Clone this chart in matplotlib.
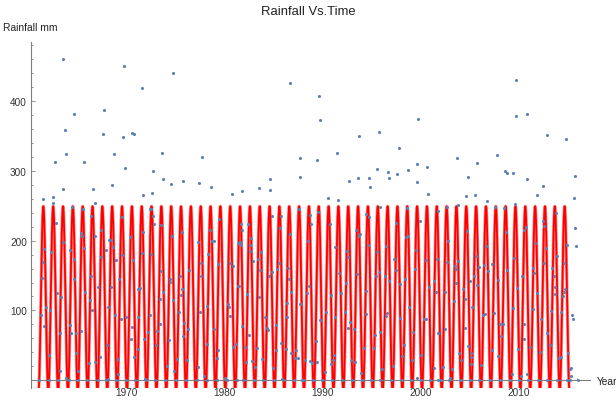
import numpy as np
import matplotlib
matplotlib.use("Agg")
import matplotlib.pyplot as plt
from matplotlib.ticker import MultipleLocator

plt.rcParams['font.family'] = ['Liberation Sans', 'DejaVu Sans']

TITLE = "Rainfall Vs.Time"
Y_LABEL = "Rainfall mm"
X_LABEL = "Year"
X_TICKS = [1970, 1980, 1990, 2000, 2010]
Y_TICKS = [100, 200, 300, 400]

# monthly rainfall points (year, mm)
RAIN_YEAR = [
    1963.53, 1969.72, 1964.65, 1967.70, 1963.67, 1967.60, 1969.60, 1970.57, 1970.71, 1963.77,
    1968.70, 1962.68, 1965.60, 1969.82, 1968.46, 1963.53, 1966.60, 1961.49, 1962.44, 1962.50,
    1966.76, 1964.42, 1965.57, 1966.40, 1962.78, 1965.30, 1965.40, 1966.80, 1967.40, 1968.20,
    1968.35, 1970.30, 1969.50, 1963.46, 1961.60, 1962.30, 1964.25, 1964.60, 1965.60, 1967.90,
    1968.60, 1968.90, 1969.55, 1970.64, 1961.50, 1961.40, 1964.60, 1966.40, 1967.40, 1967.10,
    1968.40, 1969.20, 1962.90, 1963.30, 1965.70, 1961.80, 1962.20, 1966.30, 1966.50, 1968.10,
    1971.20, 1961.20, 1961.60, 1968.80, 1969.40, 1969.90, 1964.20, 1964.35, 1964.80, 1965.30,
    1963.20, 1970.50, 1971.20, 1967.95, 1962.07, 1964.86, 1967.30, 1969.10, 1970.40, 1970.75,
    1971.20, 1963.20, 1965.00, 1966.10, 1966.80, 1969.10, 1963.80, 1968.10,
    # 1971 - 1981
    1974.76, 1971.56, 1973.64, 1977.69, 1972.65, 1973.74, 1974.50, 1975.75, 1977.38, 1978.57,
    1971.67, 1972.55, 1980.78, 1972.38, 1972.45, 1972.72, 1972.80, 1971.63, 1973.54, 1974.60,
    1975.60, 1979.40, 1978.47, 1978.70, 1978.86, 1971.53, 1972.48, 1977.24, 1977.60, 1977.60,
    1978.33, 1979.35, 1980.58, 1980.82, 1981.40, 1976.36, 1973.47, 1974.40, 1974.45, 1975.41,
    1975.60, 1975.55, 1971.36, 1973.74, 1974.70, 1973.43, 1975.30, 1977.50, 1978.20, 1980.30,
    1980.44, 1980.50, 1981.40, 1972.38, 1973.37, 1975.80, 1973.13, 1976.30, 1978.90, 1972.18,
    1971.77, 1975.75, 1974.32, 1978.23, 1972.99, 1980.85, 1981.16, 1979.35, 1979.22, 1976.20,
    1975.14, 1974.15, 1974.80, 1977.24, 1977.90, 1980.03, 1971.90,
    # 1981 - 1991
    1986.70, 1989.66, 1989.76, 1987.68, 1989.45, 1991.42, 1987.68, 1984.62, 1983.50, 1984.62,
    1981.76, 1990.54, 1991.60, 1984.79, 1985.74, 1987.55, 1988.70, 1988.80, 1989.55, 1990.74,
    1981.66, 1981.73, 1982.38, 1982.72, 1981.56, 1981.66, 1982.60, 1982.55, 1983.70, 1982.92,
    1983.40, 1983.60, 1984.86, 1984.55, 1985.60, 1985.34, 1985.54, 1986.50, 1986.60, 1986.66,
    1988.50, 1988.60, 1988.36, 1987.72, 1986.76, 1986.39, 1981.50, 1982.27, 1983.53, 1991.63,
    1991.29, 1990.88, 1990.30, 1989.72, 1989.35, 1991.29, 1984.15, 1984.30, 1984.45, 1985.27,
    1981.73, 1982.44, 1986.39, 1985.78, 1986.25, 1986.80, 1987.30, 1987.50, 1987.20, 1985.27,
    1983.84, 1983.30, 1983.09, 1982.82, 1982.07, 1982.14, 1984.89, 1988.20, 1988.70, 1988.94,
    1989.42, 1990.85, 1991.02, 1991.15, 1990.20, 1987.92, 1985.80,
    # 1991 - 2002
    1999.76, 1995.72, 1993.71, 1997.76, 1999.63, 2000.61, 1995.58, 1996.67, 1996.80, 1997.59,
    1998.67, 1993.61, 1994.73, 1992.72, 1994.83, 1999.66, 2000.72, 1995.85, 1994.42, 1994.76,
    1998.57, 1999.90, 2001.80, 1993.37, 1993.74, 1993.85, 1994.63, 1996.46, 1997.48, 1998.54,
    1998.74, 1992.52, 1992.62, 1995.51, 1999.56, 2000.58, 2001.63, 1997.28, 1993.54, 1995.48,
    1995.75, 1996.40, 1996.77, 1997.45, 1997.93, 1998.44, 1999.42, 2000.82, 2001.40, 2001.57,
    1991.87, 1992.42, 1994.39, 1992.28, 1994.42, 1996.60, 1996.50, 1998.85, 1992.76, 1992.62,
    1993.23, 1995.89, 1995.38, 1997.86, 1999.25, 2000.31, 2000.51, 2001.80, 1994.25, 1995.20,
    1998.27, 2000.07, 1992.86, 1993.33, 1993.91, 1996.06, 1997.14, 1998.13, 1999.15, 2001.36,
    1999.63,
    # 2002 - 2012
    2009.73, 2009.73, 2010.81, 2003.67, 2007.75, 2005.78, 2004.80, 2008.64, 2008.77, 2009.39,
    2010.81, 2004.59, 2005.54, 2006.77, 2003.81, 2011.83, 2009.62, 2002.68, 2007.62, 2008.50,
    2004.69, 2002.82, 2010.58, 2010.71, 2008.74, 2006.63, 2011.70, 2002.65, 2003.81, 2003.50,
    2003.57, 2005.64, 2005.95, 2006.43, 2007.28, 2006.90, 2008.84, 2009.52, 2011.50, 2011.60,
    2002.45, 2003.60, 2004.32, 2004.52, 2005.00, 2005.47, 2005.71, 2007.89, 2009.80, 2010.37,
    2011.83, 2003.37, 2005.24, 2006.32, 2006.56, 2007.45, 2009.39, 2011.50, 2008.06, 2008.43,
    2004.49, 2008.23, 2002.48, 2010.58, 2002.31, 2003.88, 2004.15, 2005.17, 2005.17, 2005.17,
    2004.86, 2006.15, 2007.31, 2007.92, 2009.90, 2010.58, 2011.15, 2010.90, 2003.23, 2002.99,
    2009.28, 2010.20,
    # 2012 - 2016
    2012.92, 2014.79, 2015.78, 2012.48, 2015.67, 2013.80, 2015.74, 2015.88, 2012.51, 2012.58,
    2014.89, 2012.75, 2013.90, 2014.65, 2012.61, 2013.43, 2013.60, 2013.67, 2013.67, 2014.72,
    2014.59, 2014.48, 2013.30, 2014.28, 2012.31, 2015.40, 2015.54, 2012.85, 2013.19, 2014.08,
    2014.35, 2015.00, 2012.17, 2015.27, 2015.33, 2015.30,
]
RAIN_MM = [
    459.5, 449.0, 381.4, 386.2, 358.6, 352.4, 347.6, 353.3, 352.4, 323.3,
    323.3, 312.4, 312.4, 303.3, 280.0, 273.8, 273.8, 260.0, 261.9, 254.3,
    254.3, 248.6, 245.2, 235.7, 225.2, 210.5, 207.0, 206.7, 215.7, 200.5,
    200.5, 205.0, 234.3, 198.0, 188.6, 183.8, 186.7, 174.3, 189.5, 186.7,
    191.0, 171.9, 179.0, 171.9, 170.0, 147.1, 145.2, 148.6, 176.2, 132.9,
    132.9, 145.7, 124.8, 118.6, 126.7, 104.3, 101.0, 114.8, 101.0, 104.3,
    131.4, 93.3, 78.1, 93.8, 87.1, 90.0, 79.5, 67.2, 67.6, 70.9,
    67.2, 76.7, 90.0, 51.0, 36.7, 39.5, 33.3, 30.0, 58.6, 33.3,
    45.2, 12.9, 12.9, 24.8, 26.2, 9.5, 3.3, 1.4,
    # 1971 - 1981
    440.0, 418.6, 324.8, 320.0, 299.0, 288.0, 280.5, 284.8, 281.9, 277.2,
    265.2, 268.1, 266.7, 245.2, 245.2, 235.7, 223.8, 212.9, 222.9, 206.7,
    211.9, 231.4, 215.7, 199.0, 199.0, 182.0, 181.0, 197.6, 168.6, 148.6,
    181.0, 167.1, 167.6, 164.3, 197.0, 158.1, 156.2, 145.2, 141.4, 148.6,
    130.5, 122.4, 131.9, 127.1, 114.8, 116.2, 97.6, 98.1, 105.7, 108.6,
    105.2, 92.4, 134.8, 93.3, 80.5, 82.4, 70.0, 73.8, 73.8, 69.0,
    59.5, 62.9, 58.1, 51.9, 51.0, 47.6, 52.4, 43.8, 32.0, 29.0,
    30.0, 20.0, 13.3, 19.5, 6.2, 3.3, 1.4,
    # 1981 - 1991
    424.8, 406.2, 372.9, 317.6, 315.7, 325.2, 291.4, 288.1, 275.7, 272.9,
    271.0, 260.5, 258.6, 235.7, 234.8, 245.2, 237.1, 223.8, 240.5, 223.8,
    223.8, 215.7, 223.8, 203.8, 197.6, 194.3, 194.3, 184.8, 183.3, 171.4,
    173.8, 157.6, 154.8, 149.5, 217.6, 159.0, 168.1, 160.5, 145.2, 209.0,
    200.0, 134.8, 124.8, 108.6, 127.1, 110.5, 134.8, 123.3, 119.0, 153.3,
    191.4, 122.4, 97.6, 86.7, 56.2, 90.5, 90.5, 75.0, 71.4, 79.5,
    78.1, 64.3, 90.5, 53.3, 45.2, 39.5, 42.9, 32.0, 32.0, 42.9,
    30.0, 46.2, 19.0, 27.1, 47.6, 26.2, 17.6, 28.6, 27.6, 25.2,
    26.2, 23.3, 28.6, 36.7, 11.9, 1.0, 1.4,
    # 1991 - 2002
    373.8, 355.2, 349.0, 332.4, 309.5, 304.8, 301.9, 298.6, 289.5, 295.7,
    300.5, 289.5, 289.5, 284.8, 277.2, 283.3, 266.2, 248.1, 237.6, 234.3,
    246.7, 228.1, 242.9, 215.7, 207.1, 210.0, 194.3, 192.9, 224.8, 204.8,
    206.2, 185.2, 177.1, 183.3, 186.7, 171.9, 172.9, 172.9, 151.9, 149.5,
    154.8, 149.0, 141.9, 158.1, 138.1, 145.7, 159.0, 132.9, 141.9, 127.1,
    125.2, 139.0, 128.1, 97.6, 94.8, 96.7, 92.4, 104.3, 83.3, 74.8,
    72.9, 69.0, 65.2, 88.6, 69.0, 88.0, 88.0, 67.1, 46.7, 46.2,
    51.0, 36.7, 28.6, 26.2, 10.5, 16.7, 20.0, 34.8, 29.0, 17.6,
    3.3,
    # 2002 - 2012
    429.0, 378.6, 381.4, 317.6, 321.9, 311.0, 291.4, 299.5, 296.7, 297.1,
    288.1, 263.8, 265.2, 257.1, 251.4, 265.2, 252.9, 248.6, 247.6, 246.7,
    213.3, 199.5, 215.7, 219.5, 212.9, 191.9, 196.2, 170.0, 171.4, 164.3,
    159.5, 177.6, 162.4, 164.8, 166.7, 156.2, 158.1, 174.8, 160.5, 153.3,
    127.1, 139.0, 130.0, 116.2, 141.9, 149.5, 136.2, 142.9, 131.9, 149.5,
    125.2, 113.3, 104.3, 92.9, 94.8, 96.7, 102.9, 102.4, 81.0, 81.0,
    74.8, 62.9, 73.3, 80.5, 19.0, 39.5, 28.6, 38.6, 33.3, 23.8,
    48.6, 22.4, 42.9, 35.2, 44.3, 59.5, 47.1, 8.6, 15.7, 3.3,
    9.0, 6.2,
    # 2012 - 2016
    350.9, 344.8, 292.9, 277.6, 261.4, 239.5, 217.6, 192.9, 228.6, 220.5,
    194.3, 189.5, 177.6, 168.1, 168.6, 160.5, 148.6, 133.3, 123.8, 130.0,
    126.2, 121.0, 99.5, 97.6, 87.1, 93.8, 87.1, 67.1, 51.0, 32.4,
    33.3, 39.5, 40.5, 16.7, 17.6, 5.7,
]
# dry-season months sitting on the axis
ZERO_YEAR = [
    1961.08, 1962.10, 1963.02, 1964.14, 1965.06, 1965.98, 1967.03, 1967.89, 1968.90, 1969.93,
    1970.88, 1971.94, 1972.89, 1973.91, 1975.03, 1976.05, 1977.14, 1978.16, 1979.18, 1980.20,
    1981.22, 1981.90, 1983.02, 1983.94, 1985.00, 1985.98, 1987.07, 1987.95, 1989.04, 1989.96,
    1990.95, 1992.01, 1993.00, 1994.05, 1994.90, 1995.85, 1996.94, 1998.06, 1999.02, 2000.00,
    2000.99, 2001.80, 2002.10, 2002.92, 2004.11, 2005.03, 2005.98, 2007.07, 2008.06, 2009.15,
    2010.03, 2010.92, 2011.94, 2012.92, 2013.87, 2014.96, 2015.23, 2016.08,
]

# fitted seasonal model (red curve)
FIT_MEAN = 117.0
FIT_AMP = 132.0
FIT_PERIOD = 1.0038
FIT_PEAK = 1961.49
FIT_START = 1961.0
FIT_END = 2015.2

BLUE = '#5e81b5'
AXIS_GRAY = '#7f7f7f'
TEXT_GRAY = '#333333'

fig = plt.figure(figsize=(6.16, 4.02), dpi=100)
ax = fig.add_axes([31 / 616, 1 - 389 / 402, (590 - 31) / 616, (389 - 43) / 402])
ax.set_facecolor('none')

t = np.linspace(FIT_START, FIT_END, 6000)
fit = FIT_MEAN + FIT_AMP * np.cos(2 * np.pi * (t - FIT_PEAK) / FIT_PERIOD)
ax.plot(t, fit, color='red', lw=2.3, alpha=0.45, zorder=2)
ax.plot(t, fit, color='red', lw=1.3, zorder=2)

ax.scatter(RAIN_YEAR, RAIN_MM, s=5, color=BLUE, linewidths=0, zorder=3)
ax.scatter(ZERO_YEAR, np.zeros(len(ZERO_YEAR)), s=5, color=BLUE, linewidths=0, zorder=3)

ax.set_xlim(1960.23, 2017.28)
ax.set_ylim(-10.9, 484)

for s in ('top', 'right'):
    ax.spines[s].set_visible(False)
ax.spines['bottom'].set_position(('data', 0))
for s in ('left', 'bottom'):
    ax.spines[s].set_color(AXIS_GRAY)
    ax.spines[s].set_linewidth(0.8)

ax.set_xticks(X_TICKS)
ax.set_yticks(Y_TICKS)
ax.xaxis.set_minor_locator(MultipleLocator(2))
ax.yaxis.set_minor_locator(MultipleLocator(20))
ax.tick_params(which='both', direction='in', color=AXIS_GRAY, width=0.6,
               labelsize=7.2, labelcolor=TEXT_GRAY)
ax.tick_params(which='major', length=3.2)
ax.tick_params(which='minor', length=1.7)
ax.tick_params(axis='x', pad=4.5)
ax.tick_params(axis='y', pad=3)

fig.text(308 / 616, 1 - 12 / 402, TITLE, ha='center', va='center', fontsize=9.4, color='#222222')
fig.text(3 / 616, 1 - 28 / 402, Y_LABEL, ha='left', va='center', fontsize=7.4, color='#222222')
fig.text(597 / 616, 1 - 382 / 402, X_LABEL, ha='left', va='center', fontsize=7.4, color='#222222')

fig.savefig('out.png', dpi=100)
